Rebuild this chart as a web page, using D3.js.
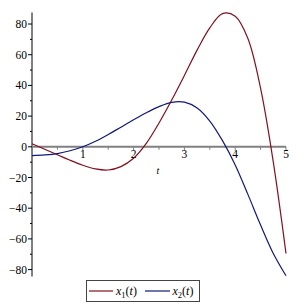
<!DOCTYPE html>
<html><head><meta charset="utf-8">
<script src="https://cdn.jsdelivr.net/npm/d3@7"></script>
<style>body{margin:0;background:#fff;}svg{display:block;}text{font-family:"Liberation Serif","Times New Roman",serif;}</style>
</head><body>
<script>
const tValues = [0,0.25,0.5,0.75,1,1.25,1.5,1.75,2,2.25,2.5,2.75,3,3.25,3.5,3.75,4,4.25,4.5,4.75,5];
const x1Values = [2,-1.6,-5.2,-8.8,-12,-14.4,-15.1,-12.9,-7.5,2.2,15.5,30.5,46.5,63,77.5,86.8,85,70.5,38,-10,-69.5];
const x2Values = [-5.8,-5.3,-4.4,-2.6,0,3.6,8,12.8,17.6,22.2,26.2,29.0,29.1,25.3,16.8,4.0,-11.8,-31,-51,-69.5,-84];
const xTicks = [1,2,3,4,5];
const yTicks = [-80,-60,-40,-20,0,20,40,60,80];
const seriesNames = ["1","2"];
const colors = ["#82101E","#10187E"];

const W=307,H=305;
const svg=d3.select("body").append("svg").attr("width",W).attr("height",H);
const x=d3.scaleLinear().domain([0,5]).range([32,286]);
const y=d3.scaleLinear().domain([-84.5,87.5]).range([276.5,12.5]);

// y axis
const gy=svg.append("g").attr("transform","translate(32,0)");
gy.append("line").attr("y1",y(87.5)).attr("y2",y(-84.5)).attr("stroke","#000").attr("stroke-width",1);
d3.range(-80,81,10).forEach(v=>{
  gy.append("line").attr("x1",v%20===0?-4:-2).attr("x2",0).attr("y1",y(v)).attr("y2",y(v)).attr("stroke","#000");
});
yTicks.forEach(v=>{
  gy.append("text").attr("x",-5).attr("y",y(v)).attr("dy","0.35em").attr("text-anchor","end")
    .attr("font-size",11.5).attr("fill","#000").text(v<0?"\u2212"+Math.abs(v):v);
});

// x axis
const gx=svg.append("g").attr("transform",`translate(0,${y(0)})`);
gx.append("line").attr("x1",x(0)).attr("x2",x(5)).attr("stroke","#808080").attr("stroke-width",2);
d3.range(0.5,5.01,0.5).forEach(v=>{
  gx.append("line").attr("x1",x(v)).attr("x2",x(v)).attr("y1",0).attr("y2",Number.isInteger(v)?4:3).attr("stroke","#808080");
});
xTicks.forEach(v=>{
  gx.append("text").attr("x",x(v)).attr("y",11).attr("text-anchor","middle").attr("font-size",11.5).attr("fill","#000").text(v);
});
svg.append("text").attr("x",158).attr("y",174).attr("text-anchor","middle").attr("font-size",10).attr("font-style","italic").text("t");

// curves
const line=d3.line().x(d=>x(d[0])).y(d=>y(d[1])).curve(d3.curveCatmullRom.alpha(0.5));
const data=[tValues.map((t,i)=>[t,x1Values[i]]), tValues.map((t,i)=>[t,x2Values[i]])];
data.forEach((d,i)=>{
  svg.append("path").attr("d",line(d)).attr("fill","none").attr("stroke",colors[i]).attr("stroke-width",1.2);
});

// legend
const lg=svg.append("g");
lg.append("rect").attr("x",86.5).attr("y",280.5).attr("width",113).attr("height",21).attr("fill","#fff").attr("stroke","#444").attr("stroke-width",1);
const items=[{x0:89,x1:113,tx:116},{x0:145,x1:170,tx:172.5}];
items.forEach((it,i)=>{
  lg.append("line").attr("x1",it.x0).attr("x2",it.x1).attr("y1",291).attr("y2",291).attr("stroke",colors[i]).attr("stroke-width",1.2);
  const t=lg.append("text").attr("x",it.tx).attr("y",294.5).attr("font-size",12).attr("fill","#000");
  t.append("tspan").attr("font-style","italic").text("x");
  t.append("tspan").attr("font-size",8.5).attr("dy",3).text(seriesNames[i]);
  t.append("tspan").attr("dy",-3).text("(");
  t.append("tspan").attr("font-style","italic").text("t");
  t.append("tspan").text(")");
});
</script>
</body></html>
